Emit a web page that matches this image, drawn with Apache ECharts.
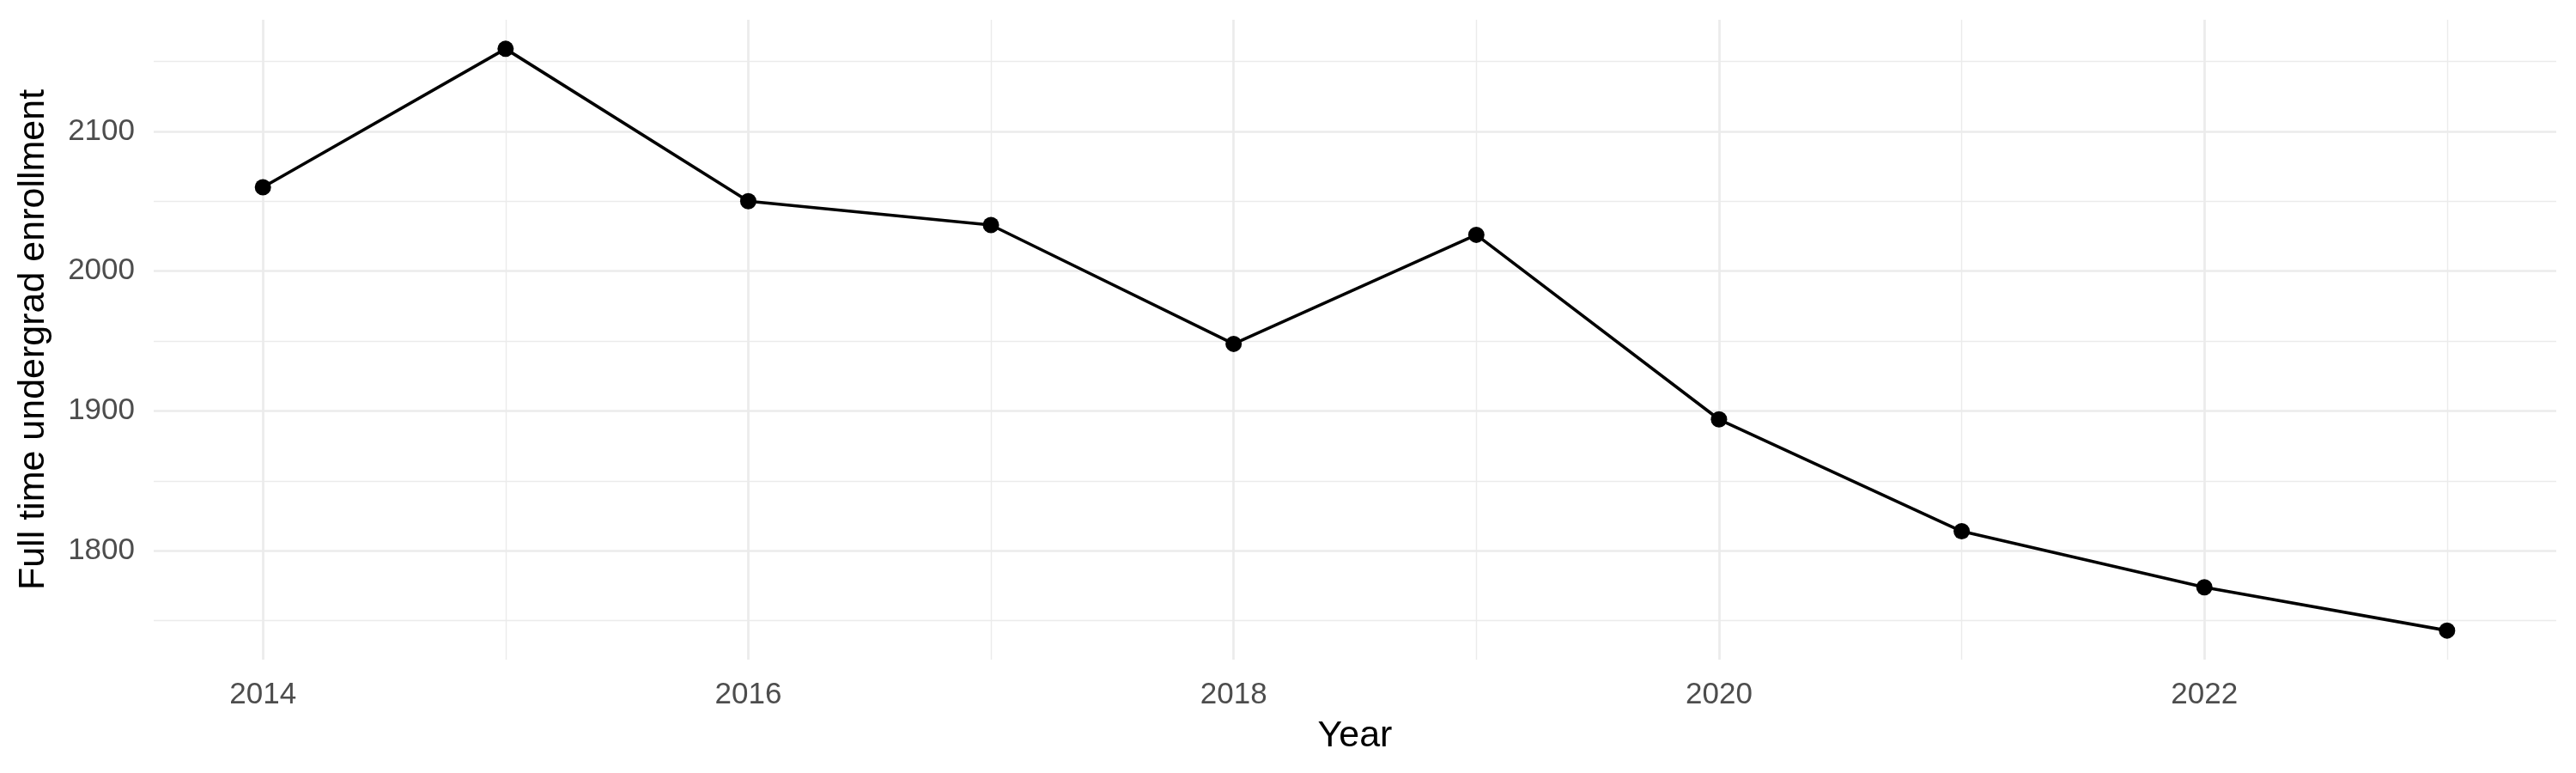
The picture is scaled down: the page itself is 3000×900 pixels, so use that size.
<!DOCTYPE html>
<html lang="en">
<head>
    <meta charset="utf-8">
    <title>Full time undergrad enrollment</title>
    <script src="https://cdn.jsdelivr.net/npm/echarts@6/dist/echarts.min.js"></script>
    <style type="text/css">
        html,
        body {
            height: 100%;
            margin: 0;
            background: #ffffff;
        }
    </style>
</head>
<body>
    <div id="main" style="width:3000px;height:900px;"></div>
    <script type="text/javascript">
        // data
        var years = [2014, 2015, 2016, 2017, 2018, 2019, 2020, 2021, 2022, 2023];
        var enrollment = [2060, 2159, 2050, 2033, 1948, 2026, 1894, 1814, 1774, 1743];

        // axis breaks
        var xMajor = [2014, 2016, 2018, 2020, 2022];
        var xMinor = [2015, 2017, 2019, 2021, 2023];
        var yMajor = [1800, 1900, 2000, 2100];
        var yMinor = [1750, 1850, 1950, 2050, 2150];

        // ggplot style 5% expansion of the data range
        function expand(arr) {
            var lo = Math.min.apply(null, arr), hi = Math.max.apply(null, arr);
            var pad = (hi - lo) * 0.05;
            return [lo - pad, hi + pad];
        }
        var xLim = expand(years);
        var yLim = expand(enrollment);

        var font = '"Liberation Sans", Arial, Helvetica, sans-serif';
        var gridColor = '#EBEBEB';

        var myChart = echarts.init(document.getElementById('main'), null, { renderer: 'canvas' });

        function gridLines(axis, values, width) {
            return values.map(function (v) {
                var o = {};
                o[axis] = v;
                o.lineStyle = { color: gridColor, width: width, type: 'solid' };
                return o;
            });
        }

        var option = {
            backgroundColor: '#ffffff',
            animation: false,
            grid: {
                left: 179,
                right: 23,
                top: 23,
                bottom: 132,
                containLabel: false
            },
            xAxis: {
                type: 'value',
                min: xLim[0],
                max: xLim[1],
                name: 'Year',
                nameLocation: 'middle',
                nameGap: 68,
                nameTextStyle: { color: '#000000', fontSize: 43, fontFamily: font },
                axisLine: { show: false },
                axisTick: { show: false, customValues: xMajor },
                splitLine: { show: false },
                axisLabel: {
                    customValues: xMajor,
                    color: '#4D4D4D',
                    fontSize: 35,
                    fontFamily: font,
                    margin: 24,
                    formatter: function (v) { return String(v); }
                }
            },
            yAxis: {
                type: 'value',
                min: yLim[0],
                max: yLim[1],
                name: 'Full time undergrad enrollment',
                nameLocation: 'middle',
                nameGap: 118,
                nameTextStyle: { color: '#000000', fontSize: 43, fontFamily: font },
                axisLine: { show: false },
                axisTick: { show: false, customValues: yMajor },
                splitLine: { show: false },
                axisLabel: {
                    customValues: yMajor,
                    color: '#4D4D4D',
                    fontSize: 35,
                    fontFamily: font,
                    margin: 22,
                    formatter: function (v) { return String(v); }
                }
            },
            series: [
                {
                    // panel grid, kept under the data
                    name: 'grid',
                    type: 'line',
                    data: [],
                    z: 1,
                    silent: true,
                    markLine: {
                        z: 1,
                        silent: true,
                        symbol: 'none',
                        label: { show: false },
                        emphasis: { disabled: true },
                        animation: false,
                        data: [].concat(
                            gridLines('yAxis', yMinor, 1.4),
                            gridLines('xAxis', xMinor, 1.4),
                            gridLines('yAxis', yMajor, 2.7),
                            gridLines('xAxis', xMajor, 2.7)
                        )
                    }
                },
                {
                    name: 'Enrollment',
                    type: 'line',
                    z: 10,
                    data: years.map(function (y, i) { return [y, enrollment[i]]; }),
                    symbol: 'circle',
                    symbolSize: 19,
                    showSymbol: true,
                    itemStyle: { color: '#000000' },
                    lineStyle: { color: '#000000', width: 3.6 }
                }
            ]
        };

        option && myChart.setOption(option);
    </script>
</body>
</html>
